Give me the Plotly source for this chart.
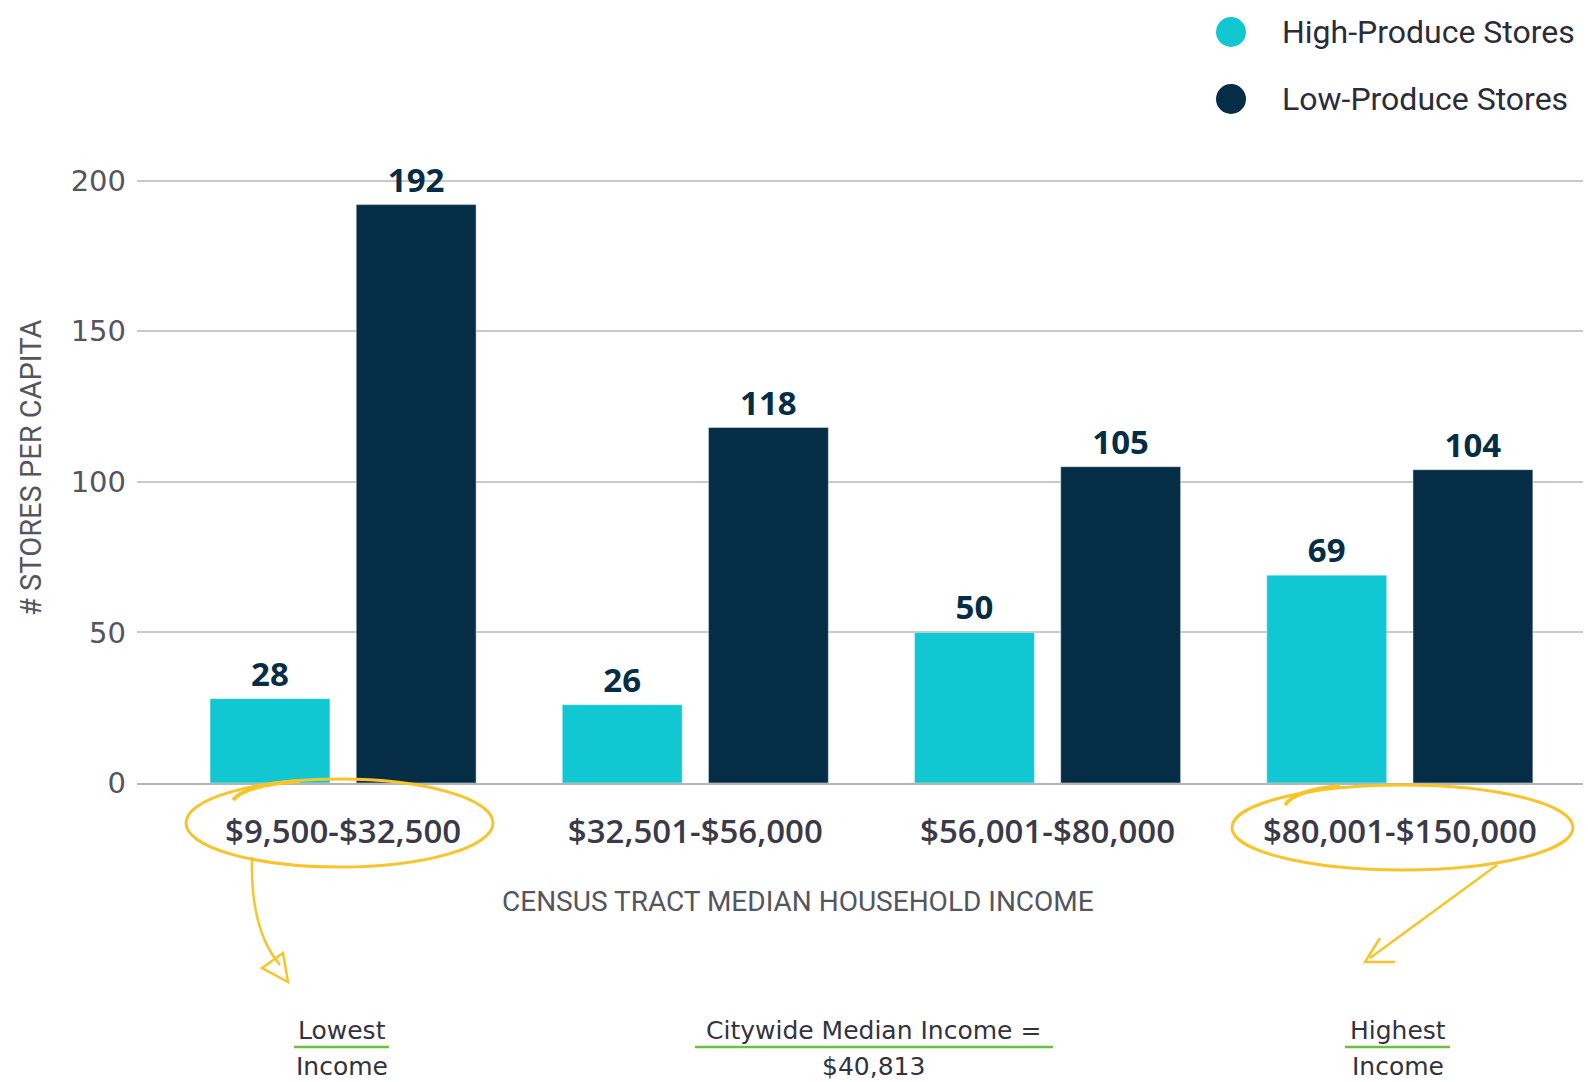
import plotly.graph_objects as go

categories = ["$9,500-$32,500", "$32,501-$56,000", "$56,001-$80,000", "$80,001-$150,000"]
high_produce = [28, 26, 50, 69]
low_produce = [192, 118, 105, 104]
series_names = ["High-Produce Stores", "Low-Produce Stores"]
y_ticks = [0, 50, 100, 150, 200]

CYAN = "#11c8d2"
NAVY = "#052e46"
YELLOW = "#f7c52b"
GREEN = "#6cbf3f"
GRAY_TXT = "#555560"
COND = "Roboto"

W, H = 1588, 1082
L, R, T, B = 137, 1583, 179, 783  # plot area in pixels


def px(x):
    return (x - L) / (R - L)


def py(y):
    return (B - y) / (B - T)


LABEL_FONT = dict(family="Open Sans", size=33, color=NAVY, weight=700)

fig = go.Figure()
fig.add_trace(go.Bar(x=categories, y=high_produce, name=series_names[0], marker_color=CYAN,
                     text=high_produce, textposition="outside", cliponaxis=False,
                     textfont=LABEL_FONT, showlegend=False))
fig.add_trace(go.Bar(x=categories, y=low_produce, name=series_names[1], marker_color=NAVY,
                     text=low_produce, textposition="outside", cliponaxis=False,
                     textfont=LABEL_FONT, showlegend=False))

shapes = []
annotations = []

# legend (manual, circles)
leg_y = [32, 99]
leg_col = [CYAN, NAVY]
for name, yy, c in zip(series_names, leg_y, leg_col):
    shapes.append(dict(type="circle", xref="paper", yref="paper",
                       x0=px(1216), x1=px(1246), y0=py(yy + 15), y1=py(yy - 15),
                       fillcolor=c, line=dict(width=0)))
    annotations.append(dict(text=name, xref="paper", yref="paper", x=px(1280), y=py(yy),
                            xanchor="left", yanchor="middle", showarrow=False,
                            font=dict(family=COND, size=32, color="#2b2b3a")))

# x title
annotations.append(dict(text="CENSUS TRACT MEDIAN HOUSEHOLD INCOME", xref="paper", yref="paper",
                        x=px(798), y=py(901), xanchor="center", yanchor="middle", showarrow=False,
                        font=dict(family=COND, size=28, color=GRAY_TXT)))
# y title
annotations.append(dict(text="# STORES PER CAPITA", xref="paper", yref="paper",
                        x=px(31), y=py(468), xanchor="center", yanchor="middle", showarrow=False,
                        textangle=-90, font=dict(family=COND, size=29, color=GRAY_TXT)))

# yellow ellipses
for (x0, x1, y0, y1) in [(186, 493, 779, 867), (1232, 1573, 785, 870)]:
    shapes.append(dict(type="circle", xref="paper", yref="paper",
                       x0=px(x0), x1=px(x1), y0=py(y1), y1=py(y0),
                       line=dict(color=YELLOW, width=3)))


def path(pts, close=False):
    s = "M " + " L ".join(f"{px(a):.5f},{py(b):.5f}" for a, b in pts)
    return s + (" Z" if close else "")


def curve(p0, c, p1):
    return f"M {px(p0[0]):.5f},{py(p0[1]):.5f} Q {px(c[0]):.5f},{py(c[1]):.5f} {px(p1[0]):.5f},{py(p1[1]):.5f}"


# hand-drawn tails of ellipses
shapes.append(dict(type="path", xref="paper", yref="paper",
                   path=curve((233, 800), (245, 785), (300, 781)), line=dict(color=YELLOW, width=4)))
shapes.append(dict(type="path", xref="paper", yref="paper",
                   path=curve((1285, 805), (1295, 790), (1340, 786)), line=dict(color=YELLOW, width=4)))

# arrow 1 (curved, open triangle head)
shapes.append(dict(type="path", xref="paper", yref="paper",
                   path=curve((252, 857), (250, 930), (280, 965)), line=dict(color=YELLOW, width=2.5)))
shapes.append(dict(type="path", xref="paper", yref="paper",
                   path=path([(262, 968), (283, 953), (288, 982)], close=True), line=dict(color=YELLOW, width=2.5)))
# arrow 2 (straight, chevron head)
shapes.append(dict(type="path", xref="paper", yref="paper",
                   path=path([(1497, 865), (1370, 958)]), line=dict(color=YELLOW, width=2.5)))
shapes.append(dict(type="path", xref="paper", yref="paper",
                   path=path([(1380, 938), (1365, 962), (1395, 962)]), line=dict(color=YELLOW, width=2.5)))

# bottom notes
BOT_FONT = dict(family="DejaVu Sans", size=25, color="#333340")
notes = [
    (342, "Lowest", "Income", 294, 389),
    (873, "Citywide Median Income =", "$40,813", 695, 1053),
    (1398, "Highest", "Income", 1345, 1450),
]
for cx, l1, l2, u0, u1 in notes:
    annotations.append(dict(text=l1, xref="paper", yref="paper", x=px(cx), y=py(1030),
                            xanchor="center", yanchor="middle", showarrow=False, font=BOT_FONT))
    annotations.append(dict(text=l2, xref="paper", yref="paper", x=px(cx), y=py(1066),
                            xanchor="center", yanchor="middle", showarrow=False, font=BOT_FONT))
    shapes.append(dict(type="line", xref="paper", yref="paper", x0=px(u0), x1=px(u1),
                       y0=py(1047), y1=py(1047), line=dict(color=GREEN, width=2.5)))

fig.update_layout(
    width=W, height=H,
    margin=dict(l=L, r=W - R, t=T, b=H - B, pad=0),
    paper_bgcolor="white", plot_bgcolor="white",
    barmode="group", bargap=0.17, bargroupgap=0.18,
    shapes=shapes, annotations=annotations,
    showlegend=False,
    xaxis=dict(range=[-0.585, 3.52], showgrid=False, showline=True, linecolor="#b5b5b8", linewidth=2,
               ticks="outside", ticklen=18, tickcolor="rgba(0,0,0,0)",
               tickfont=dict(family="Open Sans", size=33, color="#3a3a48", weight=600)),
    yaxis=dict(range=[0, 200.5], tickvals=y_ticks, showgrid=True, gridcolor="#c9c9cc", gridwidth=2,
               zeroline=False, showline=False, ticklabelstandoff=10,
               tickfont=dict(family="DejaVu Sans", size=29, color=GRAY_TXT)),
)

fig.write_html("out.html", config={"displayModeBar": False},
               post_script="document.body.style.margin='0';document.body.style.overflow='hidden';")
